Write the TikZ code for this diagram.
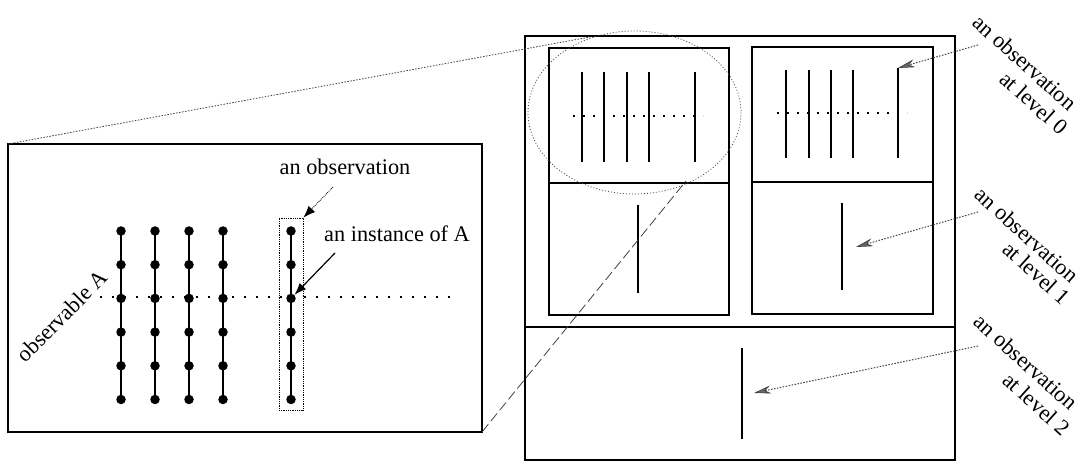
\documentclass[tikz,border=0pt]{standalone}
\usepackage{fontspec}
\setmainfont{Liberation Serif}
\usetikzlibrary{arrows.meta}
\begin{document}
\begin{tikzpicture}[x=1pt,y=-1pt,
  frame/.style={draw, line width=1.8pt},
  stroke/.style={line width=2.2pt},
  dotrow/.style={line width=2pt, dash pattern=on 2pt off 10pt},
  dotrowsm/.style={line width=2pt, dash pattern=on 2pt off 8pt},
  lbl/.style={font=\fontsize{22.3}{24}\selectfont, inner sep=0pt},
  rlbl/.style={lbl, rotate=-42},
  bead/.style={circle, fill, inner sep=0pt, minimum size=9.5pt},
  fineline/.style={line width=0.8pt, black!75},
  grayarrow/.style={line width=1pt, black!75, dash pattern=on 1.5pt off 1.5pt,
    -{Stealth[length=17pt, width=8pt, color=black!75, fill=black!60, line width=0.6pt]}},
]
\useasboundingbox (0,0) rectangle (1081,462);

% ---------- left (magnified) box ----------
\coordinate (LBtl) at (8,144);
\coordinate (LBbr) at (482,432);
\draw[frame] (LBtl) rectangle (LBbr);

% columns of beads
\foreach \x [count=\i] in {121,155,189,223,291}{
  \foreach \y [count=\j] in {231,264.7,298.4,332.1,365.8,399.5}{
    \node[bead] (d-\i-\j) at (\x,\y) {};
  }
  \draw[stroke] (d-\i-1.center) -- (d-\i-6.center);
}
% observable A dotted line
\coordinate (obsL) at (100,297);
\coordinate (obsR) at (455,297);
\draw[dotrow] (obsL) -- (obsR);

% box around the last column
\node[draw, line width=0.8pt, densely dotted, inner sep=0pt,
      minimum width=24pt, minimum height=192pt] (obsbox) at (291,314) {};

\node[lbl, anchor=base] (tObs) at (345,175) {an observation};
\node[lbl, anchor=base] (tInst) at (397,242) {an instance of A};
\node[lbl, rotate=45] (tA) at (62,316) {observable A};

\coordinate (aObsS) at (333,187);
\draw[line width=0.8pt, densely dotted, -{Latex[length=12pt, width=9pt]}]
  (aObsS) -- (obsbox.north east);
\coordinate (aInstS) at (335,253);
\draw[line width=1.2pt, -{Latex[length=12pt, width=9pt]}]
  (aInstS) -- (d-5-3);

% ---------- right (hierarchy) box ----------
\coordinate (RBtl) at (525,36);
\coordinate (RBbr) at (955,460);
\draw[frame] (RBtl) rectangle (RBbr);
\coordinate (divL) at (525,327);
\coordinate (divR) at (955,327);
\draw[frame] (divL) -- (divR);

% top-left panel
\coordinate (P1tl) at (549,48);
\coordinate (P1br) at (729,315);
\draw[frame] (P1tl) rectangle (P1br);
\coordinate (P1dl) at (549,183);
\coordinate (P1dr) at (729,183);
\draw[frame] (P1dl) -- (P1dr);
\foreach \x in {582,604,627,649,695}{
  \draw[stroke] (\x,72) -- (\x,162);
}
\coordinate (p1L) at (573,116);
\coordinate (p1R) at (703,116);
\draw[dotrowsm] (p1L) -- (p1R);
\coordinate (p1aT) at (638,205);
\coordinate (p1aB) at (638,293);
\draw[stroke] (p1aT) -- (p1aB);

% top-right panel
\coordinate (P2tl) at (752,47);
\coordinate (P2br) at (933,314);
\draw[frame] (P2tl) rectangle (P2br);
\coordinate (P2dl) at (752,182);
\coordinate (P2dr) at (933,182);
\draw[frame] (P2dl) -- (P2dr);
\foreach \x in {786,809,831,853}{
  \draw[stroke] (\x,70) -- (\x,158);
}
\coordinate (L0top) at (898,68);
\coordinate (L0bot) at (898,158);
\draw[stroke] (L0top) -- (L0bot);
\coordinate (p2L) at (777,113);
\coordinate (p2R) at (907,113);
\draw[dotrowsm] (p2L) -- (p2R);
\coordinate (L1top) at (842,203);
\coordinate (L1bot) at (842,290);
\draw[stroke] (L1top) -- (L1bot);
\coordinate (L1tip) at (856,247);

% bottom panel
\coordinate (L2top) at (742,348);
\coordinate (L2bot) at (742,439);
\draw[stroke] (L2top) -- (L2bot);
\coordinate (L2tip) at (754,393);

% ---------- magnification cues ----------
\draw[line width=0.8pt, black!70, dash pattern=on 1pt off 2pt]
  (634.5,112.5) ellipse [x radius=106.5, y radius=81.5];
\coordinate (ellTL) at (590,37);
\coordinate (ellBR) at (686,181);
\draw[fineline, dash pattern=on 1.5pt off 1.5pt] (LBtl) -- (ellTL);
\draw[fineline, dash pattern=on 10pt off 4pt] (LBbr) -- (ellBR);

% ---------- level labels ----------
\node[rlbl] (lab0a) at (1025,62.5) {an observation};
\node[rlbl] (lab0b) at (1034,103) {at level 0};
\node[rlbl] (lab1a) at (1027,235) {an observation};
\node[rlbl] (lab1b) at (1036.5,273) {at level 1};
\node[rlbl] (lab2a) at (1026,362) {an observation};
\node[rlbl] (lab2b) at (1036.5,404) {at level 2};

\coordinate (s0) at (978,45);
\coordinate (s1) at (978,212);
\coordinate (s2) at (978,346);
\draw[grayarrow] (s0) -- (L0top);
\draw[grayarrow] (s1) -- (L1tip);
\draw[grayarrow] (s2) -- (L2tip);
\end{tikzpicture}
\end{document}
